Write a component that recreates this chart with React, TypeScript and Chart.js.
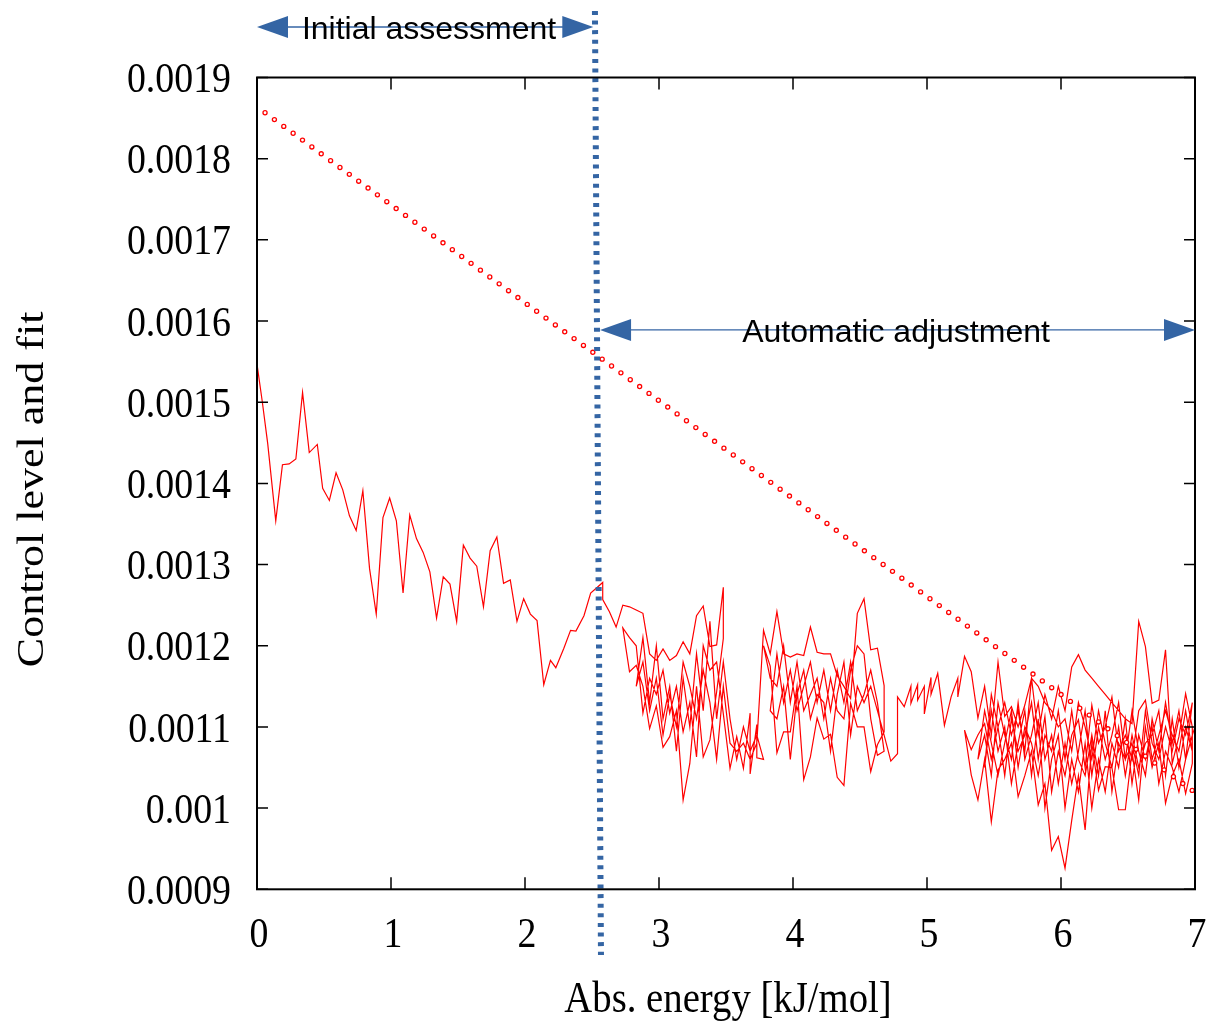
import React, { useEffect, useRef } from "react";
import { Chart, registerables } from "chart.js";

Chart.register(...registerables);

// ---------- data ----------
const initialX = [0, 0.04, 0.08, 0.14, 0.19, 0.24, 0.29, 0.34, 0.39, 0.45, 0.49, 0.54, 0.59, 0.64, 0.69, 0.74, 0.79, 0.84, 0.89, 0.94, 0.99, 1.04, 1.09, 1.14, 1.19, 1.24, 1.29, 1.34, 1.39, 1.44, 1.49, 1.54, 1.59, 1.64, 1.69, 1.74, 1.79, 1.84, 1.89, 1.94, 1.99, 2.04, 2.09, 2.14, 2.19, 2.23, 2.29, 2.34, 2.38, 2.44, 2.49, 2.54, 2.58];
const initialY = [0.001547, 0.0015, 0.001449, 0.001354, 0.001423, 0.001424, 0.00143, 0.001512, 0.001438, 0.001448, 0.001394, 0.001379, 0.001413, 0.001392, 0.00136, 0.001342, 0.001391, 0.001295, 0.001239, 0.001358, 0.001382, 0.001354, 0.001265, 0.001361, 0.001332, 0.001315, 0.001291, 0.001234, 0.001285, 0.001276, 0.00123, 0.001324, 0.001308, 0.001298, 0.001248, 0.001317, 0.001334, 0.001277, 0.001281, 0.00123, 0.001258, 0.001239, 0.001231, 0.001152, 0.001182, 0.001173, 0.001197, 0.001219, 0.001218, 0.001237, 0.001265, 0.001272, 0.001278];

const passA1: [number, number][] = [[2.58, 0.001257], [2.63, 0.001242], [2.68, 0.001223], [2.73, 0.00125], [2.78, 0.001248], [2.83, 0.001244], [2.88, 0.00124], [2.93, 0.00119], [2.98, 0.001182], [3.03, 0.001196], [3.08, 0.001182], [3.13, 0.001188], [3.18, 0.001205], [3.23, 0.00119], [3.28, 0.001237], [3.33, 0.001249], [3.38, 0.001199], [3.43, 0.001201], [3.48, 0.001272]];
const passA2: [number, number][] = [[3.48, 0.001209], [3.43, 0.001143], [3.38, 0.001084], [3.33, 0.001063], [3.28, 0.00115], [3.23, 0.001055], [3.18, 0.00101], [3.13, 0.00112], [3.08, 0.001088], [3.03, 0.001075], [2.98, 0.001126], [2.93, 0.001098], [2.88, 0.00115], [2.83, 0.001176], [2.78, 0.001168], [2.73, 0.001222]];
const passA3: [number, number][] = [[2.78, 0.00121], [2.83, 0.0012], [2.88, 0.001117], [2.93, 0.00116], [2.98, 0.00114], [3.03, 0.00117], [3.08, 0.001117], [3.13, 0.00115], [3.18, 0.001094], [3.23, 0.00113], [3.28, 0.001063], [3.33, 0.0012], [3.38, 0.00117], [3.43, 0.00118], [3.48, 0.001116], [3.53, 0.001049], [3.58, 0.001088], [3.63, 0.001049], [3.68, 0.001117], [3.68, 0.001042], [3.73, 0.001103], [3.73, 0.001062], [3.78, 0.00106]];
const passA4: [number, number][] = [[3.73, 0.00109], [3.68, 0.00107], [3.63, 0.0011], [3.58, 0.00106], [3.53, 0.00111], [3.48, 0.00118], [3.43, 0.00111], [3.38, 0.00123], [3.33, 0.00112], [3.28, 0.00119], [3.23, 0.0011], [3.18, 0.00116], [3.13, 0.00107], [3.08, 0.00115], [3.03, 0.00111], [2.98, 0.0012], [2.93, 0.00113], [2.88, 0.00121], [2.83, 0.00115]];
const passA5: [number, number][] = [[2.88, 0.00118], [2.93, 0.00112], [2.98, 0.00116], [3.03, 0.00109], [3.08, 0.00114], [3.13, 0.0011], [3.18, 0.00118], [3.23, 0.00115], [3.28, 0.00111], [3.33, 0.00117], [3.38, 0.00113], [3.43, 0.00106], [3.48, 0.00115], [3.53, 0.00108], [3.58, 0.00107], [3.63, 0.00108], [3.68, 0.00106], [3.73, 0.00108]];
const passB1: [number, number][] = [[3.78, 0.001219], [3.83, 0.00119], [3.88, 0.001242], [3.93, 0.00119], [3.98, 0.001186], [4.03, 0.00119], [4.08, 0.001188], [4.13, 0.001223], [4.18, 0.001192], [4.23, 0.00119], [4.28, 0.00119], [4.33, 0.001163], [4.38, 0.00115], [4.43, 0.001135], [4.48, 0.00124], [4.53, 0.001258], [4.58, 0.001195], [4.63, 0.001197], [4.68, 0.001151]];
const passB2: [number, number][] = [[4.68, 0.001094], [4.63, 0.001078], [4.58, 0.001045], [4.53, 0.0011], [4.48, 0.0011], [4.43, 0.001129], [4.38, 0.001028], [4.33, 0.001038], [4.28, 0.001091], [4.23, 0.001085], [4.18, 0.001111], [4.13, 0.001063], [4.08, 0.001035], [4.03, 0.00115], [3.98, 0.001094], [3.93, 0.001094], [3.88, 0.001068], [3.83, 0.001175], [3.78, 0.0012]];
const passB3: [number, number][] = [[3.83, 0.00116], [3.88, 0.00115], [3.93, 0.0012], [3.98, 0.00113], [4.03, 0.00118], [4.08, 0.00112], [4.13, 0.00114], [4.18, 0.00116], [4.23, 0.00111], [4.28, 0.00116], [4.33, 0.00112], [4.38, 0.00111], [4.43, 0.00117], [4.48, 0.0012], [4.53, 0.00119], [4.58, 0.00111], [4.63, 0.001065], [4.68, 0.00107]];
const passB4: [number, number][] = [[4.63, 0.00113], [4.58, 0.00117], [4.53, 0.00114], [4.48, 0.00112], [4.43, 0.00118], [4.38, 0.00113], [4.33, 0.00117], [4.28, 0.00112], [4.23, 0.00117], [4.18, 0.00113], [4.13, 0.00118], [4.08, 0.00115], [4.03, 0.00112], [3.98, 0.00117], [3.93, 0.00113], [3.88, 0.00119], [3.83, 0.00112]];
const passB5: [number, number][] = [[3.88, 0.00111], [3.93, 0.00115], [3.98, 0.00106], [4.03, 0.00114], [4.08, 0.00117], [4.13, 0.00111], [4.18, 0.00114], [4.23, 0.00113], [4.28, 0.00107], [4.33, 0.00114], [4.38, 0.00118], [4.43, 0.00109], [4.48, 0.00115], [4.53, 0.00113], [4.58, 0.00115], [4.63, 0.00112], [4.68, 0.00109]];
const passD: [number, number][] = [[4.73, 0.001058], [4.78, 0.001067], [4.78, 0.001137], [4.83, 0.001125], [4.88, 0.00115], [4.88, 0.001129], [4.93, 0.001152], [4.93, 0.001133], [4.98, 0.00115], [4.98, 0.001116], [5.03, 0.001161], [5.03, 0.00114], [5.08, 0.001166], [5.13, 0.001102], [5.18, 0.001137], [5.23, 0.00116], [5.23, 0.001137]];
const passC1: [number, number][] = [[5.28, 0.001187], [5.33, 0.001168], [5.38, 0.001111], [5.43, 0.00115], [5.48, 0.00109], [5.53, 0.00118], [5.58, 0.001113], [5.63, 0.001125], [5.68, 0.0011], [5.73, 0.001127], [5.78, 0.00116], [5.83, 0.00109], [5.88, 0.00114], [5.93, 0.00111], [5.98, 0.00115], [6.03, 0.00112], [6.08, 0.001174], [6.13, 0.001189], [6.18, 0.00117], [6.23, 0.00116], [6.28, 0.00115], [6.33, 0.00114], [6.38, 0.00113], [6.43, 0.00112], [6.48, 0.00111], [6.53, 0.001104], [6.58, 0.00123], [6.63, 0.001199], [6.68, 0.001129], [6.73, 0.001133], [6.78, 0.001195], [6.83, 0.001055], [6.88, 0.001088], [6.93, 0.001141], [6.98, 0.0011]];
const passC2: [number, number][] = [[6.98, 0.001055], [6.93, 0.001018], [6.88, 0.00106], [6.83, 0.00104], [6.78, 0.001006], [6.73, 0.00108], [6.68, 0.00105], [6.63, 0.0011], [6.58, 0.00101], [6.53, 0.00107], [6.48, 0.000998], [6.43, 0.000998], [6.38, 0.00105], [6.33, 0.001051], [6.28, 0.001022], [6.23, 0.00108], [6.18, 0.000973], [6.13, 0.00104], [6.08, 0.000985], [6.03, 0.000926], [5.98, 0.000965], [5.93, 0.000948], [5.88, 0.00103], [5.83, 0.001004], [5.78, 0.00107], [5.73, 0.00104], [5.68, 0.001014], [5.63, 0.00108], [5.58, 0.00106], [5.53, 0.001047], [5.48, 0.000983], [5.43, 0.00106], [5.38, 0.00101], [5.33, 0.001041], [5.28, 0.001096]];
const passC3: [number, number][] = [[5.33, 0.001072], [5.38, 0.00109], [5.43, 0.001104], [5.48, 0.00106], [5.53, 0.0011], [5.58, 0.00104], [5.63, 0.00111], [5.68, 0.00107], [5.73, 0.00109], [5.78, 0.00113], [5.83, 0.00106], [5.88, 0.001113], [5.93, 0.00102], [5.98, 0.00107], [6.03, 0.00104], [6.08, 0.00109], [6.13, 0.001109], [6.18, 0.00105], [6.23, 0.001127], [6.28, 0.00108], [6.33, 0.0011], [6.38, 0.001137], [6.43, 0.00107], [6.48, 0.00109], [6.53, 0.00106], [6.58, 0.00112], [6.63, 0.001133], [6.68, 0.00108], [6.73, 0.00106], [6.78, 0.0011], [6.83, 0.00107], [6.88, 0.00111], [6.93, 0.00109], [6.98, 0.00113]];
const passC4: [number, number][] = [[6.93, 0.00106], [6.88, 0.00102], [6.83, 0.00105], [6.78, 0.00107], [6.73, 0.00103], [6.68, 0.0011], [6.63, 0.00106], [6.58, 0.00109], [6.53, 0.00103], [6.48, 0.00111], [6.43, 0.00105], [6.38, 0.00108], [6.33, 0.00102], [6.28, 0.00106], [6.23, 0.001], [6.18, 0.00108], [6.13, 0.00102], [6.08, 0.00106], [6.03, 0.001], [5.98, 0.00109], [5.93, 0.00106], [5.88, 0.001], [5.83, 0.00111], [5.78, 0.00104], [5.73, 0.00112], [5.68, 0.00108], [5.63, 0.00103], [5.58, 0.0011], [5.53, 0.00107], [5.48, 0.00112], [5.43, 0.00105]];
const passC5: [number, number][] = [[5.48, 0.00114], [5.53, 0.0011], [5.58, 0.00113], [5.63, 0.00109], [5.68, 0.00112], [5.73, 0.00107], [5.78, 0.00116], [5.83, 0.00115], [5.88, 0.00113], [5.93, 0.00112], [5.98, 0.0011], [6.03, 0.00111], [6.08, 0.00107], [6.13, 0.00113], [6.18, 0.0011], [6.23, 0.00106], [6.28, 0.00112], [6.33, 0.00108], [6.38, 0.00105], [6.43, 0.0011], [6.48, 0.00104], [6.53, 0.00109], [6.58, 0.00105], [6.63, 0.00108], [6.68, 0.00109], [6.73, 0.00112], [6.78, 0.00104], [6.83, 0.00111], [6.88, 0.00105], [6.93, 0.0011], [6.98, 0.00107]];
const passC6: [number, number][] = [[6.93, 0.00112], [6.88, 0.00107], [6.83, 0.00109], [6.78, 0.00112], [6.73, 0.00109], [6.68, 0.00106], [6.63, 0.00112], [6.58, 0.00104], [6.53, 0.00108], [6.48, 0.00106], [6.43, 0.00113], [6.38, 0.00109], [6.33, 0.00106], [6.28, 0.0011], [6.23, 0.00104], [6.18, 0.00112], [6.13, 0.00107], [6.08, 0.00103], [6.03, 0.00108], [5.98, 0.00103], [5.93, 0.00109], [5.88, 0.00106], [5.83, 0.00113], [5.78, 0.00109], [5.73, 0.00106], [5.68, 0.00113], [5.63, 0.00106], [5.58, 0.00109], [5.53, 0.00113], [5.48, 0.00104], [5.43, 0.00109], [5.38, 0.00106]];
const passC7: [number, number][] = [[5.43, 0.00112], [5.48, 0.00108], [5.53, 0.00104], [5.58, 0.00108], [5.63, 0.00112], [5.68, 0.00105], [5.73, 0.0011], [5.78, 0.00108], [5.83, 0.00104], [5.88, 0.00109], [5.93, 0.00107], [5.98, 0.00112], [6.03, 0.00106], [6.08, 0.00112], [6.13, 0.00106], [6.18, 0.00104], [6.23, 0.00109], [6.28, 0.00104], [6.33, 0.00112], [6.38, 0.00102], [6.43, 0.00108], [6.48, 0.00106], [6.53, 0.00112], [6.58, 0.00107], [6.63, 0.00104], [6.68, 0.00111], [6.73, 0.00107], [6.78, 0.00113], [6.83, 0.00108], [6.88, 0.00112], [6.93, 0.00106], [6.98, 0.00109], [7.0, 0.0011]];

// linear fit (dotted)
const fitX = [0.06, 6.98];
const fitY = [0.0018566, 0.0010217];

// vertical separator (blue dotted)
const separatorX = [2.522, 2.567];
const separatorY = [0.001982, 0.000819];

const xTickValues = [0, 1, 2, 3, 4, 5, 6, 7];
const xTickLabels = ["0", "1", "2", "3", "4", "5", "6", "7"];
const yTickValues = [0.0009, 0.001, 0.0011, 0.0012, 0.0013, 0.0014, 0.0015, 0.0016, 0.0017, 0.0018, 0.0019];
const yTickLabels = ["0.0009", "0.001", "0.0011", "0.0012", "0.0013", "0.0014", "0.0015", "0.0016", "0.0017", "0.0018", "0.0019"];

const xTitle = "Abs. energy [kJ/mol]";
const yTitle = "Control level and fit";

const annotations = [
  { x1: 0, x2: 2.51, y: 0.0019622, label: "Initial assessment", labelX: 1.284 },
  { x1: 2.56, x2: 7, y: 0.001589, label: "Automatic adjustment", labelX: 4.769 },
];

const BLUE = "#3465a4";
const RED = "#ff0000";
const SERIF = '"Liberation Serif", "Times New Roman", serif';
const SANS = '"Liberation Sans", Arial, sans-serif';
const SQUEEZE = 0.88;

function drawSqueezed(ctx: CanvasRenderingContext2D, text: string, x: number, y: number, align: CanvasTextAlign, font: string) {
  ctx.save();
  ctx.translate(x, y);
  ctx.scale(SQUEEZE, 1);
  ctx.font = font;
  ctx.textAlign = align;
  ctx.textBaseline = "alphabetic";
  ctx.fillStyle = "#000";
  ctx.fillText(text, 0, 0);
  ctx.restore();
}

function head(ctx: CanvasRenderingContext2D, tipX: number, y: number, dir: number) {
  const len = 31;
  const half = 11;
  ctx.beginPath();
  ctx.moveTo(tipX, y);
  ctx.lineTo(tipX - dir * len, y - half);
  ctx.lineTo(tipX - dir * len, y + half);
  ctx.closePath();
  ctx.fill();
}

const framePlugin = {
  id: "gnuplotFrame",
  afterDraw(chart: any) {
    const { ctx, chartArea: a, scales } = chart;
    const xs = scales.x;
    const ys = scales.y;
    ctx.save();
    // ticks (inward, mirrored)
    ctx.strokeStyle = "#000";
    ctx.lineWidth = 1.5;
    ctx.beginPath();
    xTickValues.forEach((v) => {
      const px = xs.getPixelForValue(v);
      ctx.moveTo(px, a.bottom);
      ctx.lineTo(px, a.bottom - 12);
      ctx.moveTo(px, a.top);
      ctx.lineTo(px, a.top + 12);
    });
    yTickValues.forEach((v) => {
      const py = ys.getPixelForValue(v);
      ctx.moveTo(a.left, py);
      ctx.lineTo(a.left + 11, py);
      ctx.moveTo(a.right, py);
      ctx.lineTo(a.right - 11, py);
    });
    ctx.stroke();
    ctx.lineWidth = 2;
    ctx.strokeRect(a.left, a.top, a.right - a.left, a.bottom - a.top);

    // tick labels
    const tickFont = `43px ${SERIF}`;
    yTickValues.forEach((v, i) => {
      const py = ys.getPixelForValue(v);
      drawSqueezed(ctx, yTickLabels[i], a.left - 26, py + 14.6, "right", tickFont);
    });
    xTickValues.forEach((v, i) => {
      const px = xs.getPixelForValue(v);
      drawSqueezed(ctx, xTickLabels[i], px + 2, a.bottom + 58, "center", tickFont);
    });

    // axis titles
    const titleFont = `44px ${SERIF}`;
    drawSqueezed(ctx, xTitle, (a.left + a.right) / 2 + 2, a.bottom + 123, "center", titleFont);
    ctx.save();
    ctx.translate(43, (a.top + a.bottom) / 2 + 6);
    ctx.scale(SQUEEZE, 1);
    ctx.rotate(-Math.PI / 2);
    ctx.font = titleFont;
    ctx.textAlign = "center";
    ctx.textBaseline = "alphabetic";
    ctx.fillStyle = "#000";
    ctx.fillText(yTitle, 0, 0);
    ctx.restore();

    // annotation arrows
    annotations.forEach((an) => {
      const x1 = xs.getPixelForValue(an.x1);
      const x2 = xs.getPixelForValue(an.x2);
      const y = ys.getPixelForValue(an.y);
      ctx.strokeStyle = BLUE;
      ctx.fillStyle = BLUE;
      ctx.lineWidth = 1.3;
      ctx.beginPath();
      ctx.moveTo(x1 + 5, y);
      ctx.lineTo(x2 - 5, y);
      ctx.stroke();
      head(ctx, x1, y, -1);
      head(ctx, x2, y, 1);
      ctx.font = `32px ${SANS}`;
      ctx.textAlign = "center";
      ctx.textBaseline = "alphabetic";
      ctx.fillStyle = "#000";
      ctx.fillText(an.label, xs.getPixelForValue(an.labelX), y + 12.3);
    });
    ctx.restore();
  },
};

function toPoints(xs: number[], ys: number[]) {
  return xs.map((x, i) => ({ x, y: ys[i] }));
}

export default function App() {
  const canvasRef = useRef<HTMLCanvasElement | null>(null);

  useEffect(() => {
    const canvas = canvasRef.current;
    if (!canvas) return;
    const passes = [passA1, passA2, passA3, passA4, passA5, passB1, passB2, passB3, passB4, passB5, passD, passC1, passC2, passC3, passC4, passC5, passC6, passC7];
    const controlData = toPoints(initialX, initialY).concat(
      ...passes.map((p) => p.map(([x, y]) => ({ x, y })))
    );
    const chart = new Chart(canvas, {
      type: "scatter",
      data: {
        datasets: [
          {
            label: "separator",
            data: toPoints(separatorX, separatorY),
            showLine: true,
            borderColor: BLUE,
            borderWidth: 6,
            borderDash: [4, 5.6],
            borderCapStyle: "butt",
            pointRadius: 0,
            clip: false,
          } as any,
          {
            label: "fit inner",
            data: toPoints(fitX, fitY),
            showLine: true,
            borderColor: "#ffffff",
            borderWidth: 2.8,
            borderDash: [0, 11.6],
            borderCapStyle: "round",
            pointRadius: 0,
            clip: 6,
          } as any,
          {
            label: "fit",
            data: toPoints(fitX, fitY),
            showLine: true,
            borderColor: RED,
            borderWidth: 5.4,
            borderDash: [0, 11.6],
            borderCapStyle: "round",
            pointRadius: 0,
            clip: 6,
          } as any,
          {
            label: "Control level",
            data: controlData,
            showLine: true,
            borderColor: RED,
            borderWidth: 1.2,
            pointRadius: 0,
            tension: 0,
          } as any,
        ],
      },
      options: {
        animation: false,
        responsive: false,
        maintainAspectRatio: false,
        layout: { padding: { left: 257, right: 18, top: 77.5, bottom: 131.7 } },
        plugins: { legend: { display: false }, tooltip: { enabled: false } },
        scales: {
          x: { type: "linear", min: 0, max: 7, display: false },
          y: { type: "linear", min: 0.0009, max: 0.0019, display: false },
        },
      },
      plugins: [framePlugin],
    });
    return () => chart.destroy();
  }, []);

  return (
    <div style={{ position: "absolute", left: 0, top: 0, width: 1213, height: 1021, background: "#fff" }}>
      <canvas ref={canvasRef} width={1213} height={1021} style={{ display: "block" }} />
    </div>
  );
}
